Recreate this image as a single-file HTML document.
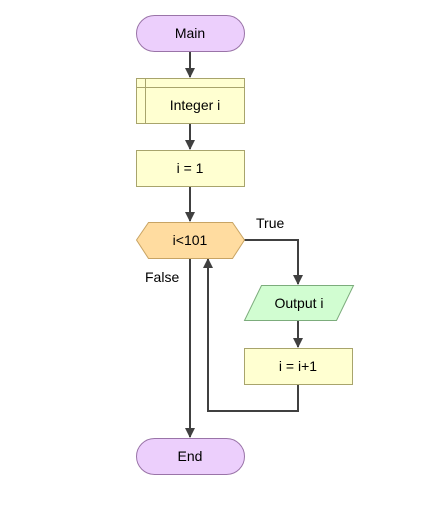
<!DOCTYPE html>
<html><head><style>html,body{margin:0;padding:0;background:#fff}</style></head><body>
<svg width="431" height="526" viewBox="0 0 431 526" xmlns="http://www.w3.org/2000/svg" font-family="Liberation Sans, Arial, sans-serif" font-size="14">
<defs><marker id="a" markerWidth="10" markerHeight="10" refX="9" refY="5" orient="auto" markerUnits="userSpaceOnUse"><path d="M0,0 L10,5 L0,10 z" fill="#404040"/></marker></defs>
<g stroke="#404040" stroke-width="2" fill="none">
<line x1="190" y1="51" x2="190" y2="77" marker-end="url(#a)"/>
<line x1="190" y1="123" x2="190" y2="149" marker-end="url(#a)"/>
<line x1="190" y1="186" x2="190" y2="221" marker-end="url(#a)"/>
<polyline points="244,240 298,240 298,284" marker-end="url(#a)"/>
<line x1="298" y1="321" x2="298" y2="347" marker-end="url(#a)"/>
<polyline points="298,384 298,411 208,411 208,259" marker-end="url(#a)"/>
<line x1="190" y1="258" x2="190" y2="437" marker-end="url(#a)"/>
</g>
<rect x="136.5" y="15.5" width="108" height="36" rx="18" fill="#eccffc" stroke="#9a74a8"/>
<text x="190" y="38" text-anchor="middle">Main</text>
<rect x="136.5" y="78.5" width="108" height="45" fill="#ffffd1" stroke="#a8a46c"/>
<line x1="145.5" y1="78.5" x2="145.5" y2="123.5" stroke="#a8a46c"/>
<line x1="136.5" y1="87.5" x2="244.5" y2="87.5" stroke="#a8a46c"/>
<text x="195" y="110" text-anchor="middle">Integer i</text>
<rect x="136.5" y="150.5" width="108" height="36" fill="#ffffd1" stroke="#a8a46c"/>
<text x="190" y="173" text-anchor="middle">i = 1</text>
<polygon points="136.5,240 148.5,222.5 232.5,222.5 244.5,240 232.5,258.5 148.5,258.5" fill="#ffdca0" stroke="#c8a464"/>
<text x="190" y="245" text-anchor="middle">i&lt;101</text>
<text x="256" y="228">True</text>
<text x="145" y="282">False</text>
<polygon points="261.5,285.5 353.5,285.5 336.5,320.5 244.5,320.5" fill="#d1fdd1" stroke="#7cac7c"/>
<text x="299" y="308" text-anchor="middle">Output i</text>
<rect x="244.5" y="348.5" width="108" height="36" fill="#ffffd1" stroke="#a8a46c"/>
<text x="298" y="371" text-anchor="middle">i = i+1</text>
<rect x="136.5" y="438.5" width="108" height="36" rx="18" fill="#eccffc" stroke="#9a74a8"/>
<text x="190" y="461" text-anchor="middle">End</text>
</svg>
</body></html>
